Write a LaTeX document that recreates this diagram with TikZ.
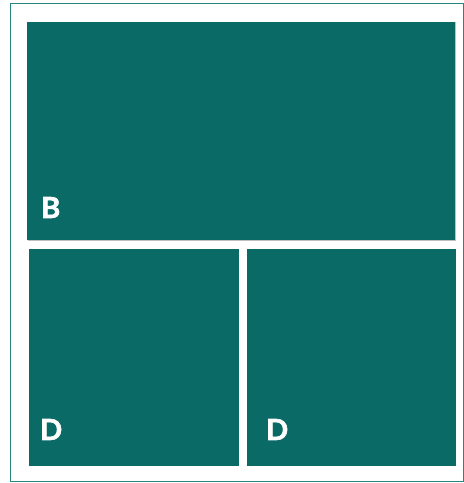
\documentclass[tikz,border=0pt]{standalone}
\usepackage{fontspec}
\newfontfamily\labelfont[BoldFeatures={FakeBold=2}]{Lato}
\definecolor{tealbox}{HTML}{0A6A65}
\definecolor{tealline}{HTML}{2A8580}
\tikzset{
  panel/.style={fill=tealbox, draw=none},
  panellabel/.style={anchor=base west, inner sep=0pt, text=white,
    font=\labelfont\bfseries\fontsize{29}{29}\selectfont},
}
\begin{document}
\begin{tikzpicture}[x=1pt, y=1pt]
    \useasboundingbox (0,0) rectangle (464,483);
    % outer frame
    \draw[tealline, line width=1pt] (10.5,1.5) rectangle (463.5,479);

    % top panel
    \fill[black!25] (28,242) rectangle (456,461);
    \fill[panel] (27,243) rectangle (455,461);
    \node[panellabel] (labB) at (41,265) {B};

    % bottom panels
    \fill[panel] (29,17) rectangle (239,234);
    \node[panellabel] (labDl) at (40,43) {D};
    \fill[panel] (247,17) rectangle (456,234);
    \node[panellabel] (labDr) at (266,43) {D};
\end{tikzpicture}
\end{document}
